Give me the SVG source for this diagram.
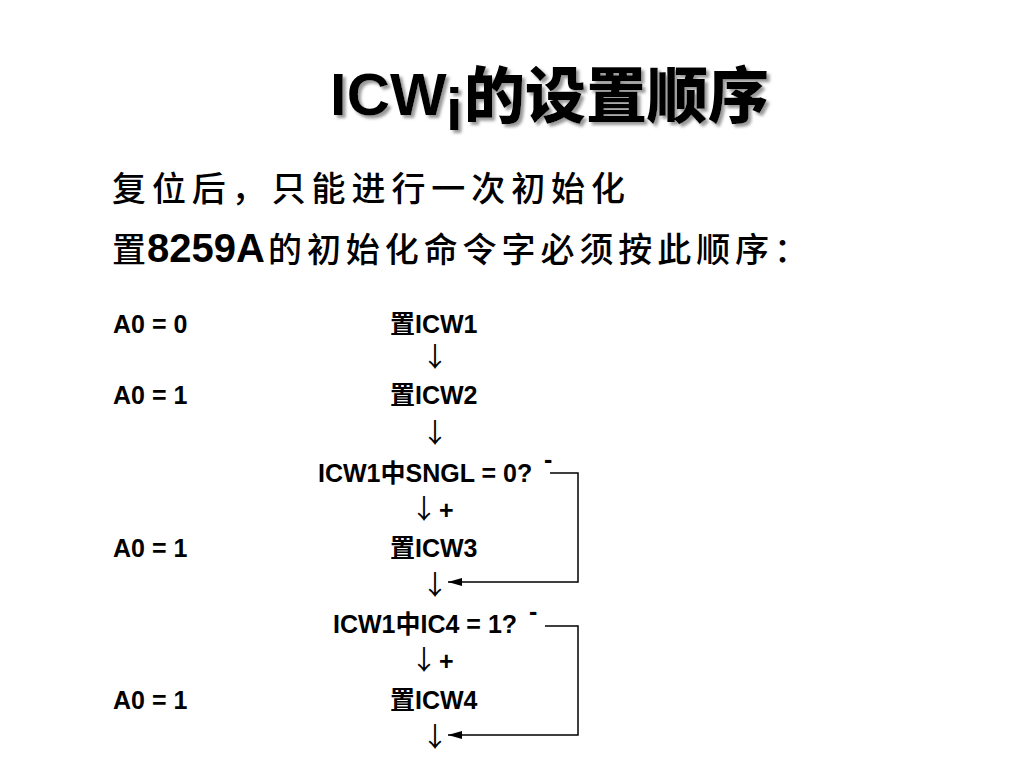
<svg xmlns="http://www.w3.org/2000/svg" width="1024" height="768" viewBox="0 0 1024 768">
<style>
.t{font-family:"Liberation Sans","Noto Sans CJK SC",sans-serif;font-weight:bold;fill:#000}
.f{font-family:"Liberation Sans","Noto Sans CJK SC",sans-serif;font-weight:bold;font-size:25px;fill:#000}
.c{font-family:"Noto Sans CJK SC",sans-serif;font-size:34px;font-weight:500;fill:#000}
.ar{font-family:"Noto Sans CJK SC",sans-serif;font-size:27px;fill:#000;text-anchor:middle}
.ln{fill:none;stroke:#000;stroke-width:1.5}
</style>
<defs>
<marker id="ah" markerWidth="14" markerHeight="8" refX="14" refY="4" orient="auto" markerUnits="userSpaceOnUse">
<path d="M0,0 L14,4 L0,8 Z" fill="#000"/>
</marker>
<filter id="sh" x="-5%" y="-20%" width="110%" height="140%">
<feGaussianBlur in="SourceAlpha" stdDeviation="1.5"/>
<feOffset dx="3" dy="3" result="b"/>
<feFlood flood-color="#999"/>
<feComposite in2="b" operator="in"/>
<feMerge><feMergeNode/><feMergeNode in="SourceGraphic"/></feMerge>
</filter>
</defs>
<rect width="1024" height="768" fill="#fff"/>
<g id="title" filter="url(#sh)">
<text class="t" x="330" y="115" font-size="60">ICW<tspan dy="15">i</tspan></text>
<text x="464" y="118" font-family="Noto Sans CJK SC,sans-serif" font-size="61" font-weight="900" textLength="305" lengthAdjust="spacing">的设置顺序</text>
</g>
<g id="intro">
<text class="c" x="112" y="201" textLength="513" lengthAdjust="spacing">复位后，只能进行一次初始化</text>
<text class="c" x="112" y="262">置</text>
<text x="147" y="262" font-family="Liberation Sans,sans-serif" font-weight="bold" font-size="40">8259A</text>
<text class="c" x="268" y="262" textLength="540" lengthAdjust="spacing">的初始化命令字必须按此顺序：</text>
</g>
<g id="row1">
<text class="f" x="113" y="333">A0 = 0</text>
<text class="f" x="390" y="333">置ICW1</text>
</g>
<g id="row2">
<text class="f" x="113" y="404">A0 = 1</text>
<text class="f" x="390" y="404">置ICW2</text>
</g>
<g id="q1">
<text class="f" x="318" y="482">ICW1中SNGL = 0?</text>
<text class="f" x="544" y="468">-</text>
</g>
<g id="row3">
<text class="f" x="113" y="557">A0 = 1</text>
<text class="f" x="390" y="557">置ICW3</text>
</g>
<g id="q2">
<text class="f" x="333" y="633">ICW1中IC4 = 1?</text>
<text class="f" x="529" y="620">-</text>
</g>
<g id="row4">
<text class="f" x="113" y="709">A0 = 1</text>
<text class="f" x="390" y="709">置ICW4</text>
</g>
<g id="connectors">
<text class="ar" x="435" y="367">↓</text>
<text class="ar" x="435" y="443">↓</text>
<text class="ar" x="424" y="519">↓</text>
<text class="f" x="439" y="519">+</text>
<text class="ar" x="435" y="595">↓</text>
<text class="ar" x="424" y="670">↓</text>
<text class="f" x="439" y="670">+</text>
<text class="ar" x="435" y="747">↓</text>
<polyline class="ln" points="550,473 578,473 578,582 448,582" marker-end="url(#ah)"/>
<polyline class="ln" points="545,626 578,626 578,735 448,735" marker-end="url(#ah)"/>
</g>
</svg>
